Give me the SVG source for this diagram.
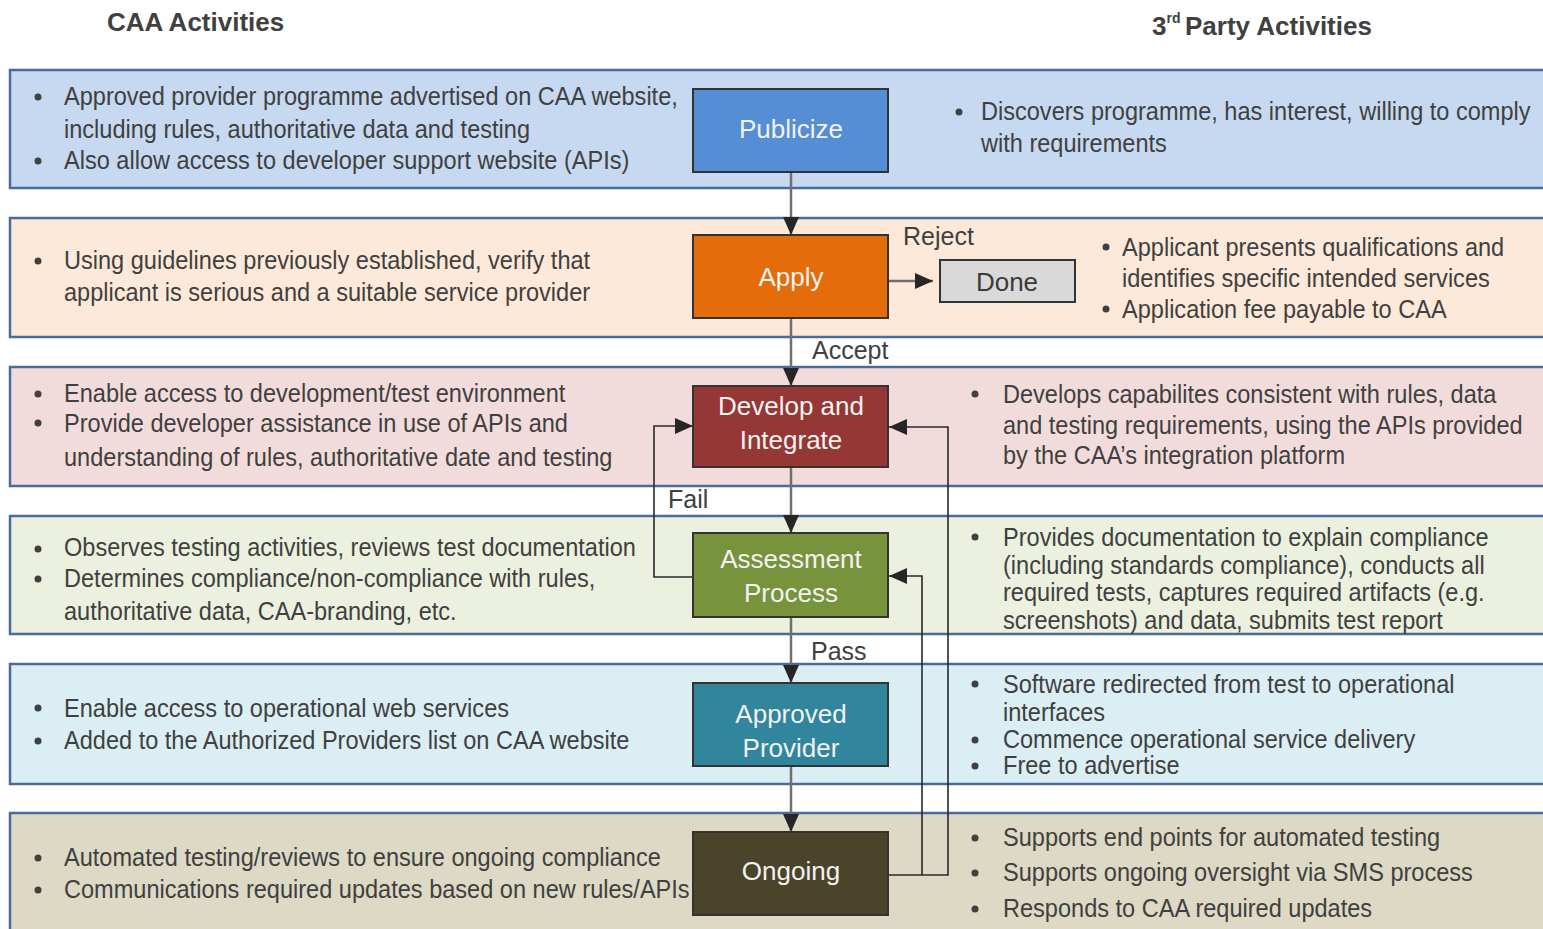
<svg xmlns="http://www.w3.org/2000/svg" width="1543" height="929" viewBox="0 0 1543 929">
<style>
.band{stroke:#4a6b9d;stroke-width:2.5}
.node{stroke:#333;stroke-width:2}
.t{font-family:"Liberation Sans",Arial,sans-serif;font-size:26px;fill:#404040}
.h{font-family:"Liberation Sans",Arial,sans-serif;font-size:26px;font-weight:bold;fill:#404040}
.nl{font-family:"Liberation Sans",Arial,sans-serif;font-size:26px;fill:#f2f2f2;text-anchor:middle}
.lbl{font-family:"Liberation Sans",Arial,sans-serif;font-size:25px;fill:#404040}
.b{fill:#404040}
.main{fill:none;stroke:#6f6f6f;stroke-width:2.5}
.loop{fill:none;stroke:#2a2a2a;stroke-width:1.6}
</style>
<defs>
<marker id="ah" markerUnits="userSpaceOnUse" markerWidth="18" markerHeight="16" refX="18" refY="8" orient="auto">
<path d="M0,0 L18,8 L0,16 z" fill="#262626"/>
</marker>
</defs>
<rect width="1543" height="929" fill="#ffffff"/>
<text class="h" x="107" y="31">CAA Activities</text>
<text class="h" x="1152" y="35">3<tspan font-size="14" dy="-12">rd</tspan><tspan x="1185" dy="12">Party Activities</tspan></text>

<g id="band-publicize">
<rect class="band" x="10" y="70" width="1545" height="118" fill="#c6d9f1"/>
<circle class="b" cx="38" cy="97" r="3.5"/><circle class="b" cx="38" cy="161" r="3.5"/>
<g transform="translate(64 0) scale(0.906 1)">
<text class="t" x="0" y="105">Approved provider programme advertised on CAA website,</text>
<text class="t" x="0" y="138">including rules, authoritative data and testing</text>
<text class="t" x="0" y="169">Also allow access to developer support website (APIs)</text>
</g>
<circle class="b" cx="959" cy="112" r="3.5"/>
<g transform="translate(981 0) scale(0.906 1)">
<text class="t" x="0" y="120">Discovers programme, has interest, willing to comply</text>
<text class="t" x="0" y="152">with requirements</text>
</g>
</g>

<g id="band-apply">
<rect class="band" x="10" y="218" width="1545" height="119" fill="#fde9d9"/>
<circle class="b" cx="38" cy="261" r="3.5"/>
<g transform="translate(64 0) scale(0.906 1)">
<text class="t" x="0" y="269">Using guidelines previously established, verify that</text>
<text class="t" x="0" y="301">applicant is serious and a suitable service provider</text>
</g>
<circle class="b" cx="1106" cy="247" r="3.5"/><circle class="b" cx="1106" cy="309" r="3.5"/>
<g transform="translate(1122 0) scale(0.906 1)">
<text class="t" x="0" y="256">Applicant presents qualifications and</text>
<text class="t" x="0" y="287">identifies specific intended services</text>
<text class="t" x="0" y="318">Application fee payable to CAA</text>
</g>
</g>

<g id="band-develop">
<rect class="band" x="10" y="367" width="1545" height="119" fill="#f2dcdb"/>
<circle class="b" cx="38" cy="394" r="3.5"/><circle class="b" cx="38" cy="423" r="3.5"/>
<g transform="translate(64 0) scale(0.906 1)">
<text class="t" x="0" y="402">Enable access to development/test environment</text>
<text class="t" x="0" y="432">Provide developer assistance in use of APIs and</text>
<text class="t" x="0" y="466">understanding of rules, authoritative date and testing</text>
</g>
<circle class="b" cx="975" cy="394" r="3.5"/>
<g transform="translate(1003 0) scale(0.906 1)">
<text class="t" x="0" y="403">Develops capabilites consistent with rules, data</text>
<text class="t" x="0" y="434">and testing requirements, using the APIs provided</text>
<text class="t" x="0" y="464">by the CAA’s integration platform</text>
</g>
</g>

<g id="band-assessment">
<rect class="band" x="10" y="516" width="1545" height="118" fill="#ebf1de"/>
<circle class="b" cx="38" cy="549" r="3.5"/><circle class="b" cx="38" cy="579" r="3.5"/>
<g transform="translate(64 0) scale(0.906 1)">
<text class="t" x="0" y="556">Observes testing activities, reviews test documentation</text>
<text class="t" x="0" y="587">Determines compliance/non-compliance with rules,</text>
<text class="t" x="0" y="620">authoritative data, CAA-branding, etc.</text>
</g>
<circle class="b" cx="975" cy="537" r="3.5"/>
<g transform="translate(1003 0) scale(0.906 1)">
<text class="t" x="0" y="546">Provides documentation to explain compliance</text>
<text class="t" x="0" y="574">(including standards compliance), conducts all</text>
<text class="t" x="0" y="601">required tests, captures required artifacts (e.g.</text>
<text class="t" x="0" y="629">screenshots) and data, submits test report</text>
</g>
</g>

<g id="band-approved">
<rect class="band" x="10" y="664" width="1545" height="120" fill="#dbeef4"/>
<circle class="b" cx="38" cy="708" r="3.5"/><circle class="b" cx="38" cy="741" r="3.5"/>
<g transform="translate(64 0) scale(0.906 1)">
<text class="t" x="0" y="717">Enable access to operational web services</text>
<text class="t" x="0" y="749">Added to the Authorized Providers list on CAA website</text>
</g>
<circle class="b" cx="975" cy="684" r="3.5"/><circle class="b" cx="975" cy="740" r="3.5"/><circle class="b" cx="975" cy="766" r="3.5"/>
<g transform="translate(1003 0) scale(0.906 1)">
<text class="t" x="0" y="693">Software redirected from test to operational</text>
<text class="t" x="0" y="721">interfaces</text>
<text class="t" x="0" y="748">Commence operational service delivery</text>
<text class="t" x="0" y="774">Free to advertise</text>
</g>
</g>

<g id="band-ongoing">
<rect class="band" x="10" y="813" width="1545" height="130" fill="#ddd9c4"/>
<circle class="b" cx="38" cy="858" r="3.5"/><circle class="b" cx="38" cy="890" r="3.5"/>
<g transform="translate(64 0) scale(0.906 1)">
<text class="t" x="0" y="866">Automated testing/reviews to ensure ongoing compliance</text>
<text class="t" x="0" y="898">Communications required updates based on new rules/APIs</text>
</g>
<circle class="b" cx="975" cy="838" r="3.5"/><circle class="b" cx="975" cy="873" r="3.5"/><circle class="b" cx="975" cy="909" r="3.5"/>
<g transform="translate(1003 0) scale(0.906 1)">
<text class="t" x="0" y="846">Supports end points for automated testing</text>
<text class="t" x="0" y="881">Supports ongoing oversight via SMS process</text>
<text class="t" x="0" y="917">Responds to CAA required updates</text>
</g>
</g>

<g id="connectors">
<path class="main" d="M791 172 V235" marker-end="url(#ah)"/>
<path class="main" d="M791 318 V386" marker-end="url(#ah)"/>
<path class="main" d="M791 467 V533" marker-end="url(#ah)"/>
<path class="main" d="M791 617 V683" marker-end="url(#ah)"/>
<path class="main" d="M791 766 V832" marker-end="url(#ah)"/>
<path class="main" d="M888 281 H933" marker-end="url(#ah)"/>
<path class="loop" d="M693 577 H654 V426 H693" marker-end="url(#ah)"/>
<path class="loop" d="M888 875 H948 V427 H889" marker-end="url(#ah)"/>
<path class="loop" d="M922 875 V576 H889" marker-end="url(#ah)"/>
<text class="lbl" x="903" y="245">Reject</text>
<text class="lbl" x="812" y="359">Accept</text>
<text class="lbl" x="668" y="508">Fail</text>
<text class="lbl" x="811" y="660">Pass</text>
</g>

<g id="node-publicize"><rect class="node" x="693" y="89" width="195" height="83" fill="#558ed5"/><text class="nl" x="791" y="138">Publicize</text></g>
<g id="node-apply"><rect class="node" x="693" y="235" width="195" height="83" fill="#e46c0a"/><text class="nl" x="791" y="286">Apply</text></g>
<g id="node-done"><rect class="node" x="940" y="260" width="135" height="42" fill="#d9d9d9"/><text class="nl" x="1007" y="291" style="fill:#3a3a3a">Done</text></g>
<g id="node-develop"><rect class="node" x="693" y="386" width="195" height="81" fill="#953735"/><text class="nl" x="791" y="415">Develop and</text><text class="nl" x="791" y="449">Integrate</text></g>
<g id="node-assessment"><rect class="node" x="693" y="533" width="195" height="84" fill="#77933c"/><text class="nl" x="791" y="568">Assessment</text><text class="nl" x="791" y="602">Process</text></g>
<g id="node-approved"><rect class="node" x="693" y="683" width="195" height="83" fill="#31859c"/><text class="nl" x="791" y="723">Approved</text><text class="nl" x="791" y="757">Provider</text></g>
<g id="node-ongoing"><rect class="node" x="693" y="832" width="195" height="83" fill="#4a442a"/><text class="nl" x="791" y="880">Ongoing</text></g>
</svg>
